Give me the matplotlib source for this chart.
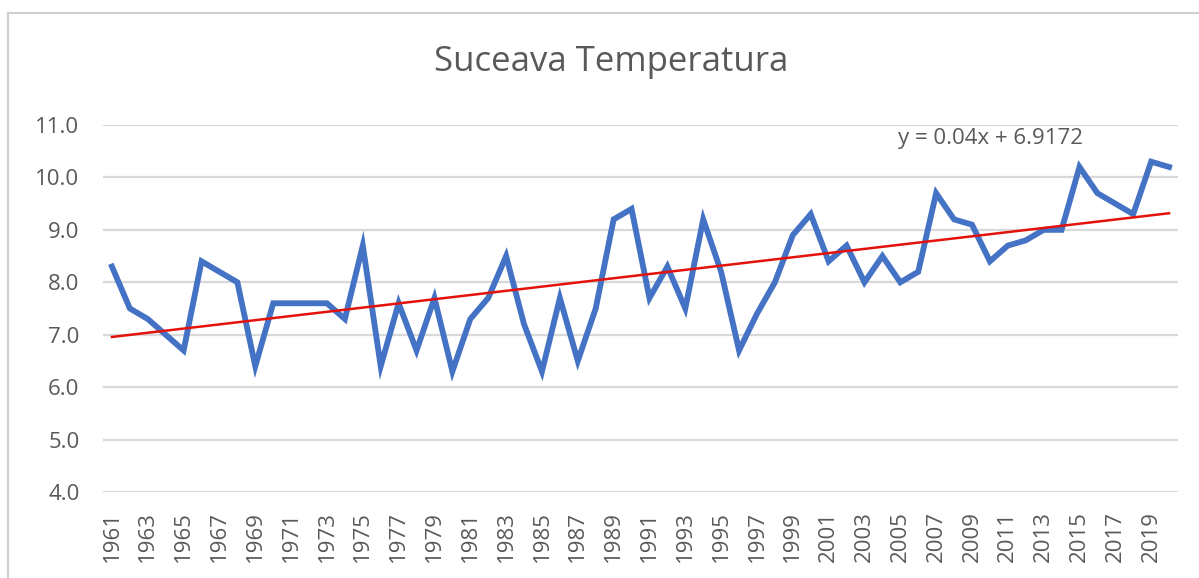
import matplotlib.pyplot as plt
from matplotlib.lines import Line2D
import numpy as np

years = list(range(1961, 2021))
temps = [8.3, 7.5, 7.3, 7.0, 6.7, 8.4, 8.2, 8.0, 6.4, 7.6,
         7.6, 7.6, 7.6, 7.3, 8.7, 6.4, 7.6, 6.7, 7.7, 6.3,
         7.3, 7.7, 8.5, 7.2, 6.3, 7.7, 6.5, 7.5, 9.2, 9.4,
         7.7, 8.3, 7.5, 9.2, 8.2, 6.7, 7.4, 8.0, 8.9, 9.3,
         8.4, 8.7, 8.0, 8.5, 8.0, 8.2, 9.7, 9.2, 9.1, 8.4,
         8.7, 8.8, 9.0, 9.0, 10.2, 9.7, 9.5, 9.3, 10.3, 10.2]
# trendline as shown by Excel: y = 0.04x + 6.9172, x = 1..n
slope = 0.04
intercept = 6.9172
yticks = [4.0, 5.0, 6.0, 7.0, 8.0, 9.0, 10.0, 11.0]

text_col = '#595959'
grid_col = '#d9d9d9'
plt.rcParams['font.family'] = ['Open Sans', 'DejaVu Sans']

fig = plt.figure(figsize=(11.99, 5.78), dpi=100)
ax = fig.add_axes([0.0859, 0.1488, 0.8966, 0.6349])

x = np.arange(1, len(years) + 1)
ax.plot(x, temps, color='#4472C4', lw=4.2, solid_joinstyle='miter', zorder=3)
trend = slope * x + intercept
ax.plot(x, trend, color='#e3120b', lw=1.8, zorder=4)

ax.set_xlim(0.5, len(years) + 0.5)
ax.set_ylim(4, 11)
ax.set_yticks(yticks)
ax.set_yticklabels(['%.1f' % v for v in yticks])
ax.set_xticks(x[::2])
ax.set_xticklabels([str(y) for y in years[::2]], rotation=90)
ax.yaxis.grid(True, color=grid_col, lw=1.6)
ax.set_axisbelow(True)
for s in ax.spines.values():
    s.set_visible(False)
ax.tick_params(axis='both', length=0, labelsize=16, colors=text_col)
ax.tick_params(axis='y', pad=17)
ax.tick_params(axis='x', pad=14)

fig.text(0.826, 0.761, 'y = 0.04x + 6.9172', ha='center', va='center',
         fontsize=16, color=text_col)
fig.text(0.5096, 0.893, 'Suceava Temperatura', ha='center', va='center',
         fontsize=25, color=text_col)

# chart frame (cropped at right/bottom)
fig.add_artist(Line2D([0.0067, 0.0067], [0, 0.9775], transform=fig.transFigure,
                      color='#d0d0d0', lw=1.5))
fig.add_artist(Line2D([0.0067, 1.0], [0.9775, 0.9775], transform=fig.transFigure,
                      color='#d0d0d0', lw=1.5))

fig.savefig('out.png', dpi=100)
